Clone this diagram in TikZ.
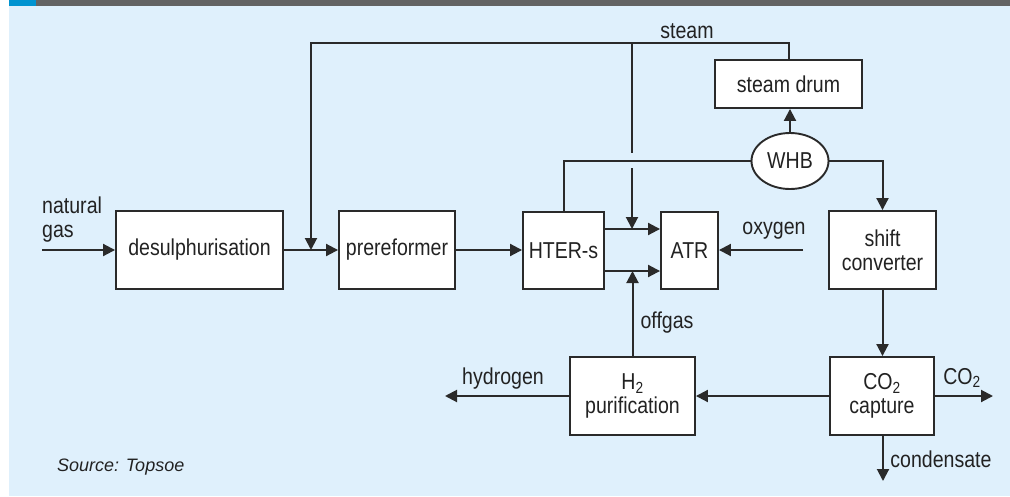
\documentclass[tikz,border=0pt]{standalone}
\usepackage{fontspec}
\setmainfont{Liberation Sans}[FakeStretch=0.85]
\newfontfamily\srcfont{Liberation Sans}
\usetikzlibrary{arrows.meta,shapes.geometric}
\definecolor{bgblue}{HTML}{DFF0FC}
\definecolor{band}{HTML}{636363}
\definecolor{accent}{HTML}{0093D0}
\definecolor{linecol}{HTML}{2A2A2A}
\definecolor{txt}{HTML}{222222}
\tikzset{
  box/.style={draw=linecol, fill=white, line width=1.9pt, inner sep=0pt, align=center,
    text=txt, font=\fontsize{23}{24}\selectfont},
  lbl/.style={inner sep=0pt, text=txt, font=\fontsize{23}{24}\selectfont},
  conn/.style={draw=linecol, line width=2pt},
  arr/.style={conn, -{Triangle[length=12pt,width=12pt]}}
}
\begin{document}
\begin{tikzpicture}[x=1pt,y=-1pt]
\useasboundingbox (0,0) rectangle (1010,496);
\fill[white] (0,0) rectangle (1010,496);
\fill[bgblue] (9,6) rectangle (1010,496);
\fill[band] (36,0) rectangle (1010,6);
\fill[accent] (9,0) rectangle (36,6);

% boxes
\node[box, minimum width=167pt, minimum height=78pt] (des) at (199.5,250) {desulphurisation};
\node[box, minimum width=116pt, minimum height=78pt] (pre) at (397,250) {prereformer};
\node[box, minimum width=81pt, minimum height=77pt] (hter) at (563.5,250.5) {HTER-s};
\node[box, minimum width=57pt, minimum height=77pt] (atr) at (689.5,250.5) {ATR};
\node[box, minimum width=107pt, minimum height=78pt] (shift) at (882.5,250) {shift\\converter};
\node[box, minimum width=147pt, minimum height=48pt] (drum) at (788.5,84) {steam drum};
\node[box, ellipse, minimum width=77pt, minimum height=56pt] (whb) at (790,161) {WHB};
\node[box, minimum width=125pt, minimum height=78pt] (h2) at (632.5,396) {H\textsubscript{2}\\purification};
\node[box, minimum width=104pt, minimum height=78pt] (co2) at (882,396) {CO\textsubscript{2}\\capture};

% coordinates
\coordinate (ng) at (42,250);
\coordinate (sj) at (311,43);
\coordinate (sin) at (311,250);
\coordinate (sb) at (632,43);
\coordinate (gapA) at (632,153);
\coordinate (gapB) at (632,168);
\coordinate (t1) at (632,229);
\coordinate (t2) at (632,271);
\coordinate (ox) at (803,250);
\coordinate (hy) at (445,396);
\coordinate (co2out) at (993,396);
\coordinate (cond) at (883,481);

% connectors
\draw[arr] (ng) -- (des.west);
\draw[arr] (des.east) -- (pre.west);
\draw[arr] (drum.north) |- (sj) -- (sin);
\draw[conn] (sb) -- (gapA);
\draw[arr] (gapB) -- (t1);
\draw[arr] (pre.east) -- (hter.west |- pre.east);
\draw[arr] (hter.east |- t1) -- (atr.west |- t1);
\draw[arr] (hter.east |- t2) -- (atr.west |- t2);
\draw[arr] (h2.north) -- (h2.north |- t2);
\draw[arr] (ox) -- (atr.east |- ox);
\draw[conn] (hter.north) |- (whb.west);
\draw[arr] (whb.east) -| (shift.north);
\draw[arr] (whb.north) -- (whb.north |- drum.south);
\draw[arr] (shift.south) -- (shift.south |- co2.north);
\draw[arr] (co2.west) -- (h2.east);
\draw[arr] (h2.west) -- (hy);
\draw[arr] (co2.east) -- (co2out);
\draw[arr] (co2.south -| cond) -- (cond);

% labels
\node[lbl] (lsteam) at (687,31) {steam};
\node[lbl, align=left, anchor=north west] (lng) at (42,197) {natural\\gas};
\node[lbl] (lox) at (774,231) {oxygen};
\node[lbl] (loff) at (667,323) {offgas};
\node[lbl] (lhy) at (503,379) {hydrogen};
\node[lbl] (lco2) at (962,378) {CO\textsubscript{2}};
\node[lbl] (lcond) at (941,459) {condensate};
\node[inner sep=0pt, anchor=west, text=txt, font=\srcfont\itshape\fontsize{18}{20}\selectfont] (src) at (57,467) {Source: Topsoe};
\end{tikzpicture}
\end{document}
